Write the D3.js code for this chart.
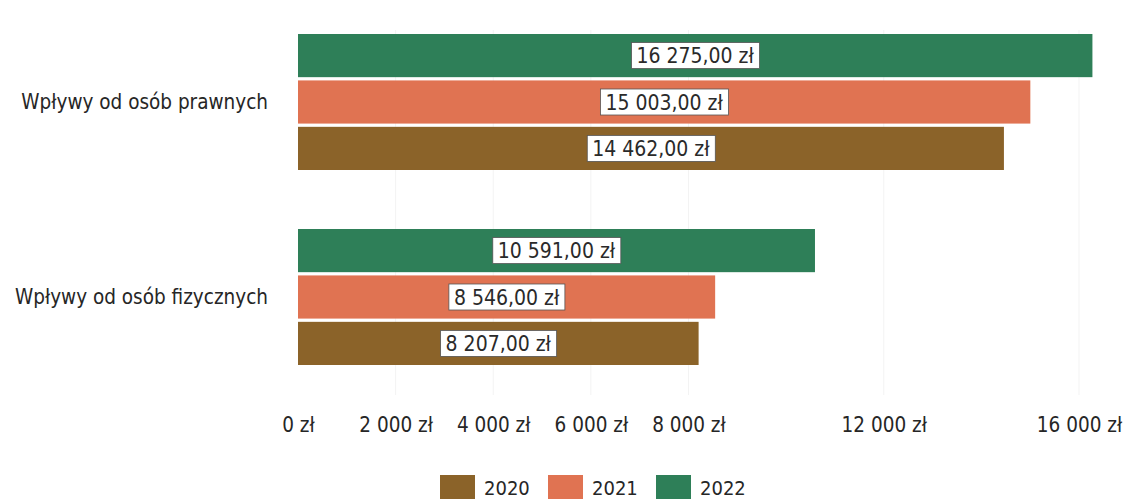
<!DOCTYPE html>
<html><head><meta charset="utf-8">
<script src="https://cdn.jsdelivr.net/npm/d3@7"></script>
<style>body{margin:0;background:#fff}svg{display:block}</style>
</head><body><svg id="c" width="1128" height="499"></svg>
<script>
const categories = ["Wpływy od osób prawnych", "Wpływy od osób fizycznych"];
const years = ["2022", "2021", "2020"];
const values2020 = [14462, 8207];
const values2021 = [15003, 8546];
const values2022 = [16275, 10591];
const tickValues = [0, 2000, 4000, 6000, 8000, 12000, 16000];
const legendYears = ["2020", "2021", "2022"];
const colors = {"2020": "#8b6329", "2021": "#e07352", "2022": "#2e7f58"};

const series = {"2020": values2020, "2021": values2021, "2022": values2022};
const loc = d3.formatLocale({decimal: ",", thousands: "\u00a0", grouping: [3], currency: ["", " zł"]});
const fmtVal = v => loc.format(",.2f")(v) + " zł";
const fmtTick = v => loc.format(",.0f")(v) + " zł";

const svg = d3.select("#c");
const font = "'DejaVu Sans Condensed', 'DejaVu Sans', sans-serif";

const x = d3.scaleLinear().domain([0, 16000]).range([298, 1079]);
const y0 = d3.scaleBand().domain(categories).range([34, 365]).paddingInner(0.3026).paddingOuter(0);
const y1 = d3.scaleBand().domain(years).range([0, y0.bandwidth()]).paddingInner(0.07);

// faint grid
svg.append("g").selectAll("line").data(tickValues.slice(1)).join("line")
  .attr("x1", d => x(d)).attr("x2", d => x(d)).attr("y1", 30).attr("y2", 395)
  .attr("stroke", "#f3f3f3").attr("stroke-width", 1);

const groups = svg.append("g").selectAll("g").data(categories).join("g")
  .attr("transform", d => `translate(0,${y0(d)})`);

groups.each(function(cat, ci) {
  const g = d3.select(this);
  years.forEach(yr => {
    const v = series[yr][ci];
    g.append("rect").attr("x", x(0)).attr("y", y1(yr))
      .attr("width", x(v) - x(0)).attr("height", y1.bandwidth())
      .attr("fill", colors[yr]);
  });
  years.forEach(yr => {
    const v = series[yr][ci];
    const cx = (x(0) + x(v)) / 2;
    const cy = y1(yr) + y1.bandwidth() / 2;
    const lg = g.append("g");
    const t = lg.append("text").attr("x", cx).attr("y", cy).attr("dy", "0.36em")
      .attr("text-anchor", "middle").attr("font-family", font).attr("font-size", 21)
      .attr("fill", "#2a2a2a").text(fmtVal(v));
    const bb = t.node().getBBox();
    lg.insert("rect", "text").attr("x", bb.x - 5).attr("y", cy - 13)
      .attr("width", bb.width + 10).attr("height", 26)
      .attr("fill", "#fff").attr("stroke", "#555").attr("stroke-width", 0.8);
  });
  g.append("text").attr("x", 268).attr("y", y0.bandwidth() / 2).attr("dy", "0.36em")
    .attr("text-anchor", "end").attr("font-family", font).attr("font-size", 20.5)
    .attr("fill", "#262626").text(cat);
});

// axis
const axis = svg.append("g").attr("transform", "translate(0,425)")
  .call(d3.axisBottom(x).tickValues(tickValues).tickFormat(fmtTick).tickSize(0).tickPadding(0));
axis.select(".domain").remove();
axis.selectAll("text").attr("font-family", font).attr("font-size", 20.5).attr("fill", "#262626").attr("dy", "0.36em");

// legend
const lgX = d3.scalePoint().domain(legendYears).range([440, 656]);
const leg = svg.append("g").selectAll("g").data(legendYears).join("g")
  .attr("transform", d => `translate(${lgX(d)},475)`);
leg.append("rect").attr("width", 35).attr("height", 26).attr("fill", d => colors[d]);
leg.append("text").attr("x", 44).attr("y", 13).attr("dy", "0.36em")
  .attr("font-family", font).attr("font-size", 20).attr("fill", "#262626").text(d => d);
</script></body></html>
